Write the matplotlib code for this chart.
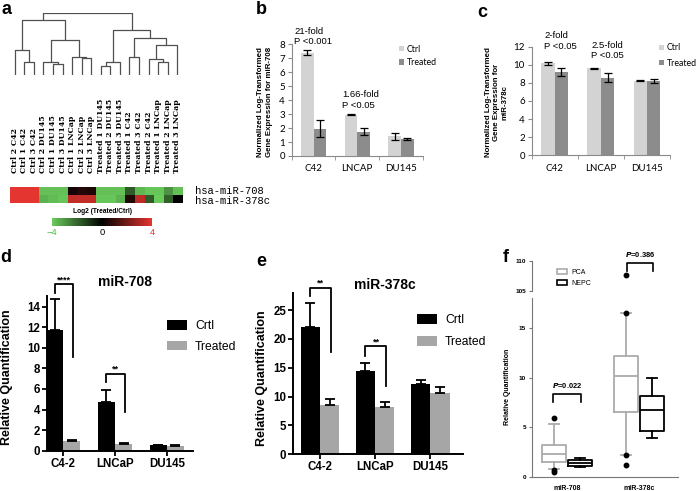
import matplotlib
matplotlib.use('Agg')
import matplotlib.pyplot as plt
import numpy as np
from matplotlib.colors import LinearSegmentedColormap, Normalize
from matplotlib.cm import ScalarMappable
from matplotlib.patches import Patch
import matplotlib.transforms as mtransforms

plt.rcParams['font.family'] = ['Liberation Sans', 'DejaVu Sans']

# ---------------- data ----------------
# panel a
sample_labels = ['Ctrl 2 C42', 'Ctrl 1 C42', 'Ctrl 3 C42',
                 'Ctrl 2 DU145', 'Ctrl 1 DU145', 'Ctrl 3 DU145',
                 'Ctrl 1 LNCap', 'Ctrl 2 LNCap', 'Ctrl 3 LNCap',
                 'Treated 1 DU145', 'Treated 2 DU145', 'Treated 3 DU145',
                 'Treated 1 C42', 'Treated 3 C42', 'Treated 2 C42',
                 'Treated 1 LNCap', 'Treated 2 LNCap', 'Treated 3 LNCap']
# (child a, child b, height); new cluster ids start at 18
linkage = [(1, 2, 38), (0, 18, 75), (4, 5, 32), (3, 20, 40), (7, 8, 50), (6, 22, 53),
           (21, 23, 105), (19, 24, 165), (9, 10, 28), (26, 11, 40), (12, 13, 53),
           (15, 16, 40), (14, 29, 48), (30, 17, 90), (28, 31, 110), (27, 32, 135),
           (25, 33, 185)]
heat_rows = ['hsa-miR-708', 'hsa-miR-378c']
heat_708 = [4, 4, 4, -3.8, -3.8, -3.8, 0.4, 0.6, 0.5, -3.8, -3.8, -3.8,
            -1.8, -3.6, -3.9, -3.9, -2.9, -3.8]
heat_378c = [4, 4, 4, -3.5, -3.7, -3.9, 3.4, 3.4, 3.4, -3.9, -3.9, -3.5,
             0.6, 3.3, -1.8, -4.0, -1.9, 0.0]

# panel b
cats_bc = ['C42', 'LNCAP', 'DU145']
b_ctrl = [7.4, 2.97, 1.4]
b_ctrl_err = [0.2, 0.03, 0.23]
b_trt = [1.95, 1.75, 1.2]
b_trt_err = [0.62, 0.28, 0.08]
b_notes = ['21-fold\nP <0.001', '1.66-fold\nP <0.05']

# panel c
c_ctrl = [10.15, 9.6, 8.25]
c_ctrl_err = [0.12, 0.04, 0.03]
c_trt = [9.2, 8.55, 8.2]
c_trt_err = [0.45, 0.5, 0.18]
c_notes = ['2-fold\nP <0.05', '2.5-fold\nP <0.05']

# panel d
cats_de = ['C4-2', 'LNCaP', 'DU145']
d_crtl = [11.7, 4.75, 0.55]
d_crtl_err = [3.0, 1.15, 0.03]
d_trt = [0.92, 0.62, 0.45]
d_trt_err = [0.15, 0.12, 0.07]
d_sig = ['****', '**']
d_br_top = [16.2, 7.5]
d_br_left = [15.3, 6.7]
d_br_right = [9.1, 3.8]

# panel e
e_crtl = [22.1, 14.4, 12.1]
e_crtl_err = [4.2, 1.5, 0.7]
e_trt = [8.5, 8.2, 10.7]
e_trt_err = [1.0, 0.85, 0.95]
e_sig = ['**', '**']
e_br_top = [28.9, 18.7]
e_br_left = [27.5, 17.1]
e_br_right = [17.8, 11.8]

# panel f (box statistics)
f_groups = ['miR-708', 'miR-378c']
pca_med = [2.25, 10.15]
pca_q1 = [1.5, 6.5]
pca_q3 = [3.2, 12.2]
pca_lo = [0.75, 2.2]
pca_hi = [5.3, 16.5]
pca_fliers = [[5.95, 0.5, 0.7], [16.5, 2.2, 1.2, 107.7]]
nepc_med = [1.35, 6.75]
nepc_q1 = [1.08, 4.62]
nepc_q3 = [1.68, 8.1]
nepc_lo = [1.0, 3.88]
nepc_hi = [1.85, 10.0]
f_pvals = ['=0.022', '=0.386']

# ---------------- figure ----------------
W, H = 698, 491
fig = plt.figure(figsize=(W / 100, H / 100), dpi=100)


def px_axes(x0, y0, x1, y1):
    return fig.add_axes([x0 / W, 1 - y1 / H, (x1 - x0) / W, (y1 - y0) / H])


def ftext(x, y, s, **kw):
    return fig.text(x / W, 1 - y / H, s, **kw)


# ---------- panel a ----------
axd = px_axes(10, 13.3, 182, 75)
pos = {i: i + 0.5 for i in range(len(sample_labels))}
hgt = {i: 0.0 for i in range(len(sample_labels))}
for k, (a, b, h) in enumerate(linkage):
    cid = len(sample_labels) + k
    xa, xb = pos[a], pos[b]
    axd.plot([xa, xa, xb, xb], [hgt[a], h, h, hgt[b]], color='#505050', lw=0.9,
             solid_capstyle='butt')
    pos[cid] = (xa + xb) / 2
    hgt[cid] = h
axd.set_xlim(0, 18)
axd.set_ylim(0, 185)
axd.axis('off')

trans = mtransforms.blended_transform_factory(axd.transData, fig.transFigure)
for i, lab in enumerate(sample_labels):
    axd.text(i + 0.5, 1 - 173 / H, lab, transform=trans, rotation=90,
             ha='center', va='bottom', fontsize=5.6, fontweight='bold',
             family='DejaVu Serif')

cmap = LinearSegmentedColormap.from_list('gbr', [(0, '#6acb5c'), (0.5, '#000000'), (1, '#e53530')])
axh = px_axes(10, 187, 182, 203)
axh.imshow(np.array([heat_708, heat_378c]), cmap=cmap, vmin=-4, vmax=4,
           aspect='auto', interpolation='nearest')
axh.axis('off')
ftext(195, 191.5, heat_rows[0], family='Liberation Mono', fontsize=7.6, va='center')
ftext(195, 200.5, heat_rows[1], family='Liberation Mono', fontsize=7.6, va='center')

axc = px_axes(52, 218, 152, 226)
cb = fig.colorbar(ScalarMappable(norm=Normalize(-4, 4), cmap=cmap), cax=axc,
                  orientation='horizontal', ticks=[-4, 0, 4])
cb.outline.set_visible(False)
axc.tick_params(length=0, pad=1.5, labelsize=6.8)
axc.set_xticklabels(['\u22124', '0', '4'])
for t, col in zip(axc.get_xticklabels(), ['#4cb848', 'black', '#e53530']):
    t.set_color(col)
ftext(102, 211.7, 'Log2 (Treated/Ctrl)', fontsize=4.8, fontweight='bold', ha='center', va='center')


# ---------- panels b, c ----------
def excel_panel(ax, ctrl, ctrl_err, trt, trt_err, ymax, ystep):
    x = np.arange(len(cats_bc))
    w = 0.29
    ek = dict(ecolor='black', elinewidth=0.9, capsize=2.6, capthick=0.9)
    ax.bar(x - w / 2, ctrl, w, color='#d3d3d3', yerr=ctrl_err, error_kw=ek, label='Ctrl')
    ax.bar(x + w / 2, trt, w, color='#8c8c8c', yerr=trt_err, error_kw=ek, label='Treated')
    ax.set_xlim(-0.5, 2.5)
    ax.set_ylim(0, ymax)
    ax.set_yticks(np.arange(0, ymax + 0.1, ystep))
    ax.set_xticks(x)
    ax.set_xticklabels(cats_bc)
    ax.set_xticks([-0.5, 0.5, 1.5, 2.5], minor=True)
    for s in ['top', 'right']:
        ax.spines[s].set_visible(False)
    for s in ['left', 'bottom']:
        ax.spines[s].set_color('#8a8a8a')
        ax.spines[s].set_linewidth(0.8)
    ax.tick_params(axis='x', which='major', length=0, pad=6, labelsize=7)
    ax.tick_params(axis='x', which='minor', length=3, color='#8a8a8a')
    ax.tick_params(axis='y', length=3, color='#8a8a8a', labelsize=7, pad=2)
    for t in ax.get_xticklabels() + ax.get_yticklabels():
        t.set_family('Lato')


axb = px_axes(291.7, 44.3, 422.7, 156)
excel_panel(axb, b_ctrl, b_ctrl_err, b_trt, b_trt_err, 8, 1)
axb.legend(loc='upper left', bbox_to_anchor=(399 / W, 1 - 44.5 / H), bbox_transform=fig.transFigure,
           frameon=False, prop={'family': 'Lato', 'size': 6.3}, handlelength=0.6, handleheight=0.6,
           handletextpad=0.3, labelspacing=0.55, borderpad=0, borderaxespad=0)
ftext(294.3, 36.5, b_notes[0], fontsize=6.8, ha='left', va='center', linespacing=1.15)
ftext(342.3, 100, b_notes[1], fontsize=6.8, ha='left', va='center', linespacing=1.15)
ftext(265, 102, 'Normalized Log-Transformed\nGene Expression for miR-708', rotation=90,
      ha='center', va='center', fontsize=5.7, fontweight='bold', linespacing=1.35)

axcc = px_axes(531.7, 46.7, 670, 155.3)
excel_panel(axcc, c_ctrl, c_ctrl_err, c_trt, c_trt_err, 12, 2)
axcc.legend(loc='upper left', bbox_to_anchor=(659 / W, 1 - 43.5 / H), bbox_transform=fig.transFigure,
            frameon=False, prop={'family': 'Lato', 'size': 6.3}, handlelength=0.6, handleheight=0.6,
            handletextpad=0.3, labelspacing=0.7, borderpad=0, borderaxespad=0)
ftext(544, 41, c_notes[0], fontsize=6.8, ha='left', va='center', linespacing=1.15)
ftext(591, 50.5, c_notes[1], fontsize=6.8, ha='left', va='center', linespacing=1.15)
ftext(496.5, 102, 'Normalized Log-Transformed\nGene Expression for\nmiR-378c', rotation=90,
      ha='center', va='center', fontsize=5.7, fontweight='bold', linespacing=1.25)


# ---------- panels d, e ----------
def prism_panel(ax, crtl, crtl_err, trt, trt_err, ymax, ystep, xlim, w):
    x = np.arange(len(cats_de))
    ek = dict(ecolor='black', elinewidth=1.3, capsize=3.3, capthick=1.3)
    z = np.zeros(len(x))
    ax.bar(x - w / 2, crtl, w, color='black', yerr=[z, crtl_err], error_kw=ek)
    ax.bar(x + w / 2, trt, w, color='#a6a6a6', yerr=[z, trt_err], error_kw=ek)
    ax.set_xlim(*xlim)
    ax.set_ylim(0, ymax)
    ax.set_yticks(np.arange(0, ymax, ystep))
    ax.set_xticks(x)
    ax.set_xticklabels(cats_de)
    for s in ['top', 'right']:
        ax.spines[s].set_visible(False)
    for s in ['left', 'bottom']:
        ax.spines[s].set_linewidth(1.4)
    ax.tick_params(axis='both', length=3.5, width=1.3, labelsize=8.3, pad=1.5)
    for t in ax.get_xticklabels() + ax.get_yticklabels():
        t.set_fontweight('bold')


def brackets(ax, sig, top, left, right, w, fs):
    for i, s in enumerate(sig):
        xl, xr = i - w / 2, i + w / 2 + 0.03
        ax.plot([xl, xl, xr, xr], [left[i], top[i], top[i], right[i]], color='black',
                lw=1.3, clip_on=False)
        ax.text((xl + xr) / 2, top[i], s, ha='center', va='bottom', fontsize=fs,
                fontweight='bold', clip_on=False)


legend_handles = [Patch(facecolor='black', label='Crtl'), Patch(facecolor='#a6a6a6', label='Treated')]

axdd = px_axes(46.7, 296.4, 192.7, 450.7)
prism_panel(axdd, d_crtl, d_crtl_err, d_trt, d_trt_err, 15, 2, (-0.32, 2.5), 0.33)
brackets(axdd, d_sig, d_br_top, d_br_left, d_br_right, 0.33, 6.5)
axdd.text(1.2, 1 - 281.7 / H, 'miR-708', transform=mtransforms.blended_transform_factory(axdd.transData, fig.transFigure),
          ha='center', va='center', fontsize=10, fontweight='bold')
axdd.legend(handles=legend_handles, loc='upper left', bbox_to_anchor=(166.7 / W, 1 - 320 / H),
            bbox_transform=fig.transFigure, frameon=False, fontsize=8.7, handlelength=1.66,
            handleheight=0.83, handletextpad=0.69, labelspacing=0.72, borderpad=0, borderaxespad=0)
ftext(7.5, 377, 'Relative Quantification', rotation=90, ha='center', va='center',
      fontsize=9, fontweight='bold')

axe = px_axes(293.3, 292.7, 463.3, 454.3)
prism_panel(axe, e_crtl, e_crtl_err, e_trt, e_trt_err, 28, 5, (-0.485, 2.6), 0.35)
brackets(axe, e_sig, e_br_top, e_br_left, e_br_right, 0.35, 6.5)
axe.text(1.18, 1 - 285 / H, 'miR-378c', transform=mtransforms.blended_transform_factory(axe.transData, fig.transFigure),
         ha='center', va='center', fontsize=10, fontweight='bold')
axe.legend(handles=legend_handles, loc='upper left', bbox_to_anchor=(416.7 / W, 1 - 313.5 / H),
           bbox_transform=fig.transFigure, frameon=False, fontsize=8.7, handlelength=1.66,
           handleheight=0.9, handletextpad=0.69, labelspacing=0.85, borderpad=0, borderaxespad=0)
ftext(261.7, 378, 'Relative Quantification', rotation=90, ha='center', va='center',
      fontsize=9, fontweight='bold')

# ---------- panel f ----------
axf_top = px_axes(531.7, 261, 678.3, 290.7)
axf = px_axes(531.7, 298.3, 678.3, 476.7)
gx = np.arange(1, len(f_groups) + 1)
pca_stats = [dict(med=pca_med[i], q1=pca_q1[i], q3=pca_q3[i], whislo=pca_lo[i], whishi=pca_hi[i],
                  fliers=pca_fliers[i]) for i in range(len(f_groups))]
nepc_stats = [dict(med=nepc_med[i], q1=nepc_q1[i], q3=nepc_q3[i], whislo=nepc_lo[i], whishi=nepc_hi[i],
                   fliers=[]) for i in range(len(f_groups))]
pca_col = '#ababab'
for ax in (axf, axf_top):
    for stats, col, off in ((pca_stats, pca_col, -0.18), (nepc_stats, 'black', 0.18)):
        lp = dict(color=col, lw=1.3)
        ax.bxp(stats, positions=gx + off, widths=0.33, capwidths=0.14, boxprops=lp, medianprops=lp,
               whiskerprops=lp, capprops=lp, showfliers=True,
               flierprops=dict(marker='o', mfc='black', mec='black', ms=3.2, ls='none'),
               manage_ticks=False)
    ax.set_xlim(0.508, 2.55)
    for s in ['top', 'right']:
        ax.spines[s].set_visible(False)
    ax.spines['left'].set_color('#777777')
    ax.spines['bottom'].set_color('#777777')
    ax.tick_params(axis='both', length=2.5, color='#777777', labelsize=4.6, pad=1.5)

axf.set_ylim(0, 18)
axf.set_yticks([0, 5, 10, 15])
axf.set_xticks(gx)
axf.set_xticklabels(f_groups)
axf.tick_params(axis='x', length=0, pad=6, labelsize=5)
axf_top.set_ylim(105, 110)
axf_top.set_yticks([105, 110])
axf_top.spines['bottom'].set_visible(False)
axf_top.set_xticks([])
for t in axf.get_xticklabels() + axf.get_yticklabels() + axf_top.get_yticklabels():
    t.set_fontweight('bold')

# P-value brackets
axf.plot([0.81, 0.81, 1.2, 1.2], [7.5, 8.3, 8.3, 7.5], color='black', lw=1.2)
axf.text(1.005, 8.7, r'$\mathbfit{P}$' + f_pvals[0], ha='center', va='bottom', fontsize=5.4,
         fontweight='bold')
axf_top.plot([1.83, 1.83, 2.2, 2.2], [108.4, 109.6, 109.6, 108.4], color='black', lw=1.2, clip_on=False)
axf_top.text(2.015, 110.4, r'$\mathbfit{P}$' + f_pvals[1], ha='center', va='bottom', fontsize=5.4,
             fontweight='bold', clip_on=False)

f_handles = [Patch(facecolor='white', edgecolor=pca_col, lw=1.2, label='PCA'),
             Patch(facecolor='white', edgecolor='black', lw=1.2, label='NEPC')]
axf_top.legend(handles=f_handles, loc='upper left', bbox_to_anchor=(556.7 / W, 1 - 268.5 / H),
               bbox_transform=fig.transFigure, frameon=False, fontsize=5, handlelength=1.45,
               handleheight=0.72, handletextpad=0.6, labelspacing=0.6, borderpad=0, borderaxespad=0)
ftext(507.7, 387, 'Relative Quantification', rotation=90, ha='center', va='center',
      fontsize=5, fontweight='bold')

# ---------- panel letters ----------
for lab, x, y in (('a', 6, 10), ('b', 261.7, 10), ('c', 482.5, 12.5),
                  ('d', 6, 257.5), ('e', 261, 261), ('f', 505.5, 257.5)):
    ftext(x, y, lab, fontsize=13, fontweight='bold', ha='center', va='center')

fig.savefig('out.png', dpi=100)
